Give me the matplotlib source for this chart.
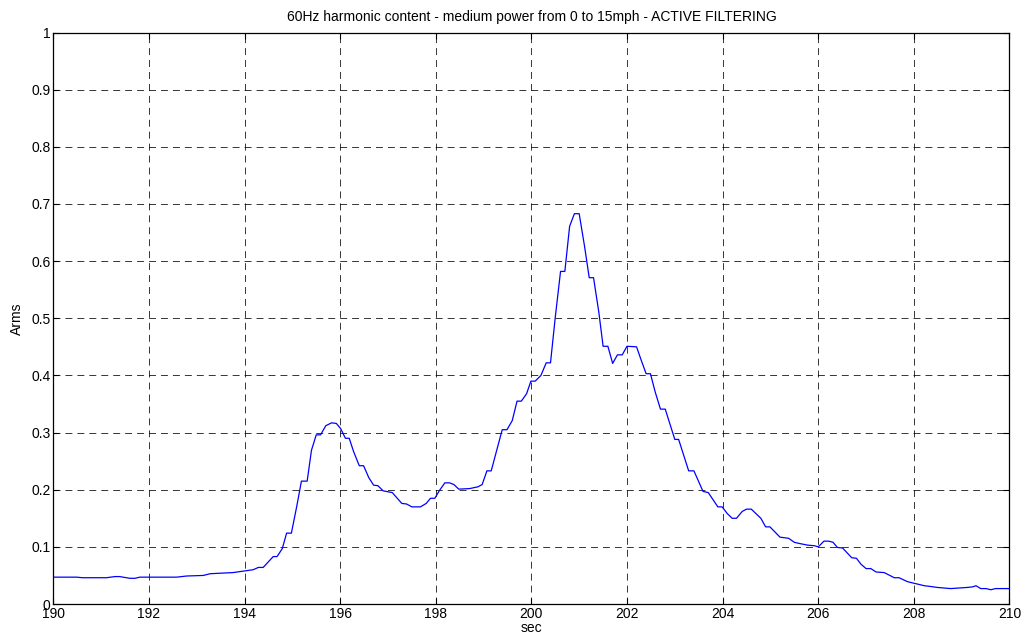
import numpy as np
import matplotlib
matplotlib.use("Agg")
import matplotlib.pyplot as plt

plt.rcParams["font.family"] = ["Liberation Sans", "DejaVu Sans"]
plt.rcParams["lines.scale_dashes"] = False

# Harmonic content trace
t_sec = [
    190.00, 190.49, 190.61, 191.11, 191.29, 191.39, 191.60, 191.71, 191.81, 192.58,
    192.79, 193.14, 193.28, 193.76, 194.01, 194.18, 194.29, 194.39, 194.60, 194.68,
    194.79, 194.88, 194.98, 195.09, 195.19, 195.31, 195.40, 195.50, 195.59, 195.70,
    195.82, 195.92, 196.01, 196.11, 196.19, 196.28, 196.40, 196.49, 196.60, 196.70,
    196.79, 196.90, 197.09, 197.29, 197.39, 197.50, 197.68, 197.80, 197.89, 197.98,
    198.08, 198.19, 198.29, 198.38, 198.48, 198.71, 198.88, 198.97, 199.07, 199.16,
    199.39, 199.49, 199.60, 199.70, 199.79, 199.90, 199.99, 200.08, 200.20, 200.31,
    200.40, 200.50, 200.61, 200.70, 200.80, 200.90, 201.00, 201.11, 201.21, 201.30,
    201.41, 201.50, 201.60, 201.70, 201.80, 201.90, 202.00, 202.20, 202.30, 202.40,
    202.49, 202.59, 202.70, 202.80, 203.00, 203.08, 203.29, 203.40, 203.59, 203.70,
    203.90, 203.99, 204.10, 204.20, 204.29, 204.41, 204.50, 204.60, 204.80, 204.90,
    204.99, 205.20, 205.38, 205.50, 205.60, 205.78, 205.92, 206.00, 206.12, 206.22,
    206.31, 206.40, 206.51, 206.60, 206.70, 206.80, 206.89, 207.00, 207.10, 207.21,
    207.38, 207.59, 207.69, 207.87, 207.97, 208.22, 208.32, 208.49, 208.77, 209.12,
    209.23, 209.30, 209.40, 209.51, 209.61, 209.71, 210.00,
]
arms = [
    0.047, 0.047, 0.046, 0.046, 0.048, 0.048, 0.045, 0.045, 0.047, 0.047,
    0.049, 0.050, 0.053, 0.055, 0.058, 0.060, 0.064, 0.064, 0.083, 0.083,
    0.097, 0.124, 0.124, 0.170, 0.215, 0.215, 0.269, 0.296, 0.296, 0.312,
    0.317, 0.316, 0.307, 0.290, 0.290, 0.267, 0.242, 0.242, 0.221, 0.208,
    0.207, 0.198, 0.195, 0.176, 0.175, 0.170, 0.170, 0.176, 0.185, 0.185,
    0.199, 0.212, 0.212, 0.209, 0.201, 0.202, 0.205, 0.209, 0.233, 0.233,
    0.305, 0.305, 0.321, 0.355, 0.355, 0.368, 0.390, 0.390, 0.400, 0.422,
    0.422, 0.502, 0.582, 0.582, 0.661, 0.683, 0.683, 0.627, 0.571, 0.571,
    0.511, 0.451, 0.451, 0.421, 0.436, 0.436, 0.451, 0.450, 0.426, 0.403,
    0.403, 0.371, 0.341, 0.341, 0.288, 0.288, 0.233, 0.233, 0.197, 0.195,
    0.170, 0.170, 0.158, 0.150, 0.150, 0.162, 0.166, 0.166, 0.150, 0.135,
    0.135, 0.117, 0.115, 0.108, 0.106, 0.103, 0.102, 0.100, 0.110, 0.110,
    0.108, 0.099, 0.098, 0.090, 0.081, 0.080, 0.070, 0.062, 0.062, 0.056,
    0.055, 0.046, 0.046, 0.039, 0.037, 0.032, 0.031, 0.029, 0.027, 0.029,
    0.030, 0.032, 0.027, 0.027, 0.025, 0.027, 0.027,
]

x_ticks = np.arange(190, 211, 2)
y_ticks = np.round(np.arange(0, 1.01, 0.1), 1)
y_tick_labels = ["0"] + [f"{v:g}" for v in y_ticks[1:]]

fig = plt.figure(figsize=(10.21, 6.34), dpi=100)
ax = fig.add_axes([0.0522, 0.0473, 0.9365, 0.9014])

ax.plot(t_sec, arms, color="#0000FF", linewidth=0.9)

ax.set_xlim(190, 210)
ax.set_ylim(0, 1)
ax.set_xticks(x_ticks)
ax.set_yticks(y_ticks)
ax.set_yticklabels(y_tick_labels)
ax.grid(True, color="black", linestyle=(0, (5, 3.6)), linewidth=0.55)

ax.tick_params(direction="in", length=4, width=0.8, top=True, right=True,
               labelsize=10, pad=2)
for s in ax.spines.values():
    s.set_linewidth(0.9)

ax.set_title("60Hz harmonic content - medium power from 0 to 15mph - ACTIVE FILTERING",
             fontsize=10, pad=8)
ax.set_xlabel("sec", fontsize=10, labelpad=0)
ax.set_ylabel("Arms", fontsize=10, labelpad=5)

fig.savefig("out.png", dpi=100)
